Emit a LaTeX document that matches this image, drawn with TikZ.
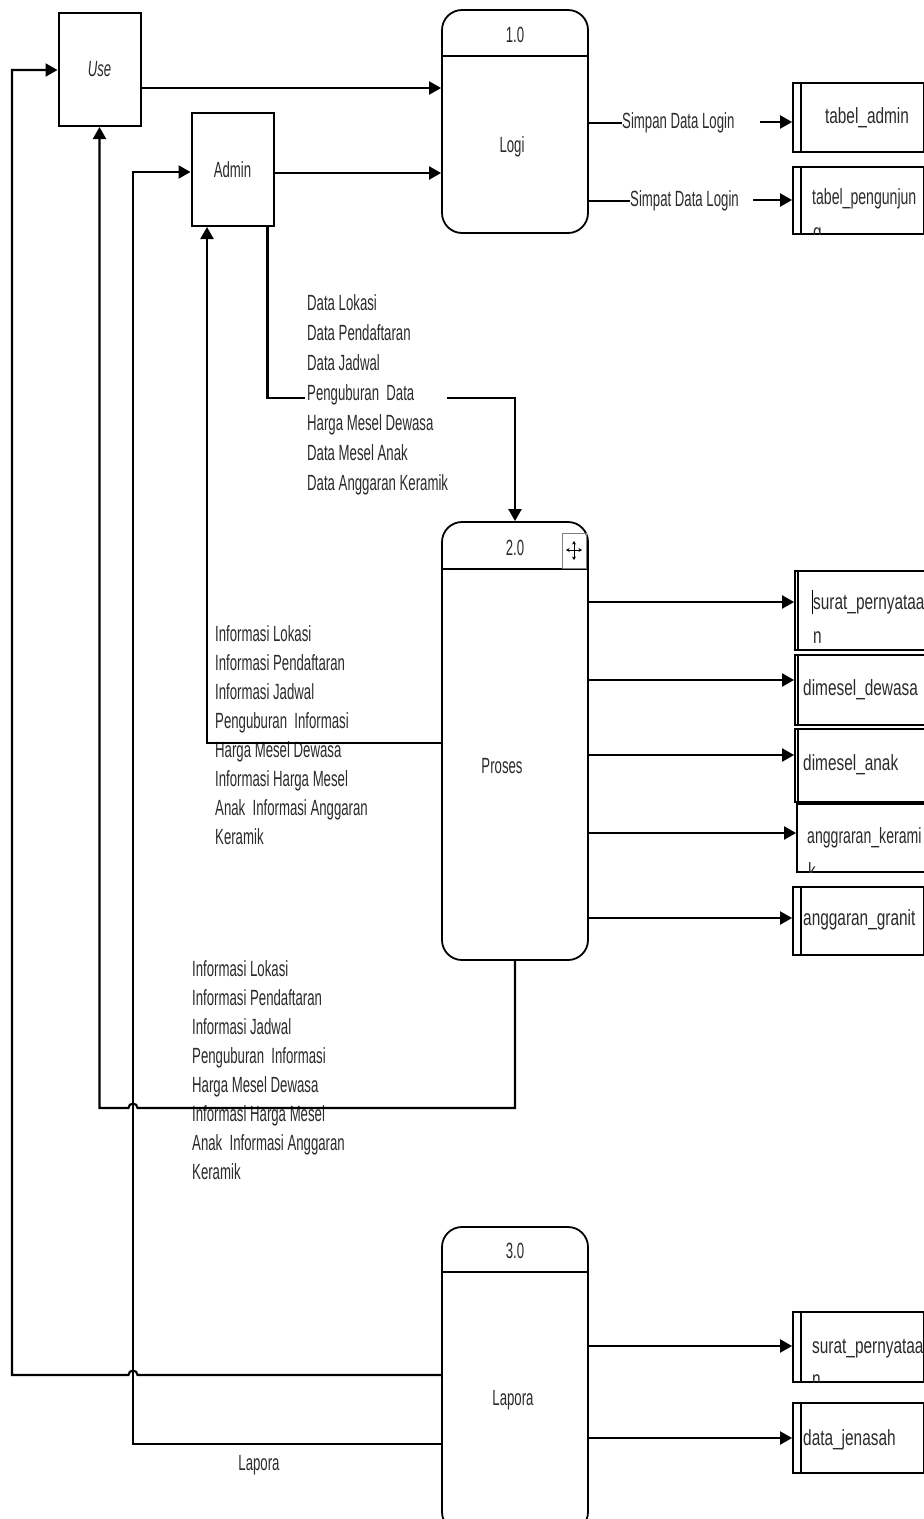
\documentclass[tikz,border=0pt]{standalone}
\usepackage{fontspec}
\usetikzlibrary{arrows.meta}
\newfontfamily\nar[FakeStretch=0.6]{Liberation Sans}
\newfontfamily\stf[FakeStretch=0.7]{Liberation Sans}
\newfontfamily\stn[FakeStretch=0.64]{Liberation Sans}
\definecolor{txt}{HTML}{2A2A2A}
\begin{document}
\begin{tikzpicture}[x=1pt,y=-1pt,
  ln/.style={line width=2.1pt},
  arr/.style={line width=2.1pt,-{Triangle[length=12pt,width=13pt]}},
  ent/.style={draw,line width=2pt,minimum width=82pt,minimum height=113pt,inner sep=0pt},
  proc/.style={draw,line width=1.8pt,rounded corners=20pt,minimum width=146pt,inner sep=0pt},
  store/.style={draw,line width=1.8pt,minimum width=131pt,inner sep=0pt},
  lbl/.style={font=\nar\fontsize{22}{29}\selectfont,text=txt,inner sep=0pt},
  slbl/.style={font=\stf\fontsize{22}{29}\selectfont,text=txt,inner sep=0pt},
]
\useasboundingbox (0,0) rectangle (924,1519);

% external entities
\node[ent,lbl,font=\nar\itshape\fontsize{22}{29}\selectfont] (use) at (99.5,69.5) {Use};
\node[ent,lbl] (admin) at (232.5,169.5) {Admin};

% processes
\node[proc,minimum height=223pt] (p1) at (515,121.5) {};
\draw[ln] (p1.west |- 0,56) -- (p1.east |- 0,56);
\node[lbl] (p1n) at (515,35) {1.0};
\node[lbl] (p1t) at (512,147) {Logi};

\node[proc,minimum height=438pt] (p2) at (515,741) {};
\draw[ln] (p2.west |- 0,569) -- (p2.east |- 0,569);
\node[lbl] (p2n) at (515,548) {2.0};
\node[lbl] (p2t) at (502,766) {Proses};
\node[draw=gray,line width=0.7pt,minimum width=24pt,minimum height=35pt,inner sep=0pt] (mv) at (574,551) {};
\draw[line width=1pt,{Stealth[length=3.5pt,width=4pt]}-{Stealth[length=3.5pt,width=4pt]}] ([xshift=-8pt,yshift=1pt]mv.center) -- ([xshift=8pt,yshift=1pt]mv.center);
\draw[line width=1pt,{Stealth[length=3.5pt,width=4pt]}-{Stealth[length=3.5pt,width=4pt]}] ([yshift=-9pt]mv.center) -- ([yshift=10pt]mv.center);

\node[proc,minimum height=305pt] (p3) at (515,1379.5) {};
\draw[ln] (p3.west |- 0,1272) -- (p3.east |- 0,1272);
\node[lbl] (p3n) at (515,1251) {3.0};
\node[lbl] (p3t) at (513,1400) {Lapora};

% data stores
\node[store,minimum height=69pt] (sa) at (858.5,117.5) {};
\draw[ln] ([xshift=9pt]sa.north west) -- ([xshift=9pt]sa.south west);
\node[slbl] (sat) at (867,118) {tabel\_admin};

\node[store,minimum height=67pt] (sp) at (858.5,200.5) {};
\draw[ln] ([xshift=9pt]sp.north west) -- ([xshift=9pt]sp.south west);
\node[slbl,font=\stn\fontsize{22}{29}\selectfont,anchor=west] (spt) at (812,199) {tabel\_pengunjun};
\begin{scope}
\clip (sp.north west) rectangle (sp.south east);
\node[slbl,anchor=base west] (spt2) at (813,239) {g};
\end{scope}

\node[store,minimum height=79pt] (s1) at (860.5,610.5) {};
\draw[line width=1.3pt] ([xshift=4pt]s1.north west) -- ([xshift=4pt]s1.south west);
\node[slbl,anchor=base west] (s1t) at (813,609) {surat\_pernyataa};
\node[slbl,anchor=base west] (s1t2) at (813,643) {n};
\draw[line width=0.9pt] (812,590) -- (812,614);

\node[store,minimum height=70pt] (s2) at (860.5,690) {};
\draw[line width=1.3pt] ([xshift=4pt]s2.north west) -- ([xshift=4pt]s2.south west);
\node[slbl,anchor=west] (s2t) at (803,690) {dimesel\_dewasa};

\node[store,minimum height=73pt] (s3) at (860.5,765.5) {};
\draw[line width=1.3pt] ([xshift=4pt]s3.north west) -- ([xshift=4pt]s3.south west);
\node[slbl,anchor=west] (s3t) at (803,765) {dimesel\_anak};

\node[store,minimum height=68pt] (s4) at (862.5,838) {};
\node[slbl,font=\stn\fontsize{22}{29}\selectfont,anchor=base west] (s4t) at (807,843) {anggraran\_kerami};
\begin{scope}
\clip (s4.north west) rectangle (s4.south east);
\node[slbl,anchor=base west] (s4t2) at (808,878) {k};
\end{scope}

\node[store,minimum height=68pt] (s5) at (858.5,921) {};
\draw[ln] ([xshift=9pt]s5.north west) -- ([xshift=9pt]s5.south west);
\node[slbl,anchor=west] (s5t) at (803,920) {anggaran\_granit};

\node[store,minimum height=70pt] (s6) at (858.5,1347) {};
\draw[ln] ([xshift=9pt]s6.north west) -- ([xshift=9pt]s6.south west);
\node[slbl,anchor=base west] (s6t) at (812,1353) {surat\_pernyataa};
\begin{scope}
\clip (s6.north west) rectangle (s6.south east);
\node[slbl,anchor=base west] (s6t2) at (812,1386) {n};
\end{scope}

\node[store,minimum height=70pt] (s7) at (858.5,1438) {};
\draw[ln] ([xshift=9pt]s7.north west) -- ([xshift=9pt]s7.south west);
\node[slbl,anchor=west] (s7t) at (803,1440) {data\_jenasah};

% flows at the top
\draw[arr] (use.east |- 0,88) -- (p1.west |- 0,88);
\draw[arr] (admin.east |- 0,173) -- (p1.west |- 0,173);

\node[lbl,anchor=west] (simpan) at (622,123) {Simpan Data Login};
\node[lbl,anchor=west] (simpat) at (630,201) {Simpat Data Login};
\coordinate (k1) at (760,122);
\coordinate (k2) at (753,200);
\draw[ln] (p1.east |- simpan) -- (simpan.west);
\draw[arr] (k1) -- (sa.west |- k1);
\draw[ln] (p1.east |- simpat) -- (simpat.west);
\draw[arr] (k2) -- (sp.west |- k2);

% admin -> proses
\node[lbl,anchor=north west,align=left,font=\nar\fontsize{22}{30}\selectfont] (dlbl) at (307,294)
  {Data Lokasi\\Data Pendaftaran\\Data Jadwal\\Penguburan\ \ Data\\Harga Mesel Dewasa\\Data Mesel Anak\\Data Anggaran Keramik};
\coordinate (d1) at (305,398);
\coordinate (d2) at (447,398);
\draw[ln] ([xshift=-7pt]admin.south east) |- (d1);
\draw[arr] (d2) -| (p2.north);

% proses -> admin
\node[lbl,anchor=north west,align=left] (ilbl1) at (215,625)
  {Informasi Lokasi\\Informasi Pendaftaran\\Informasi Jadwal\\Penguburan\ \ Informasi\\Harga Mesel Dewasa\\Informasi Harga Mesel\\Anak\ \ Informasi Anggaran\\Keramik};
\coordinate (c1) at (207,743);
\draw[arr] (p2.west |- c1) -- (c1) -- (admin.south -| c1);

% proses -> use
\node[lbl,anchor=north west,align=left] (ilbl2) at (192,960)
  {Informasi Lokasi\\Informasi Pendaftaran\\Informasi Jadwal\\Penguburan\ \ Informasi\\Harga Mesel Dewasa\\Informasi Harga Mesel\\Anak\ \ Informasi Anggaran\\Keramik};
\coordinate (j1) at (137.5,1108);
\draw[arr] (p2.south) |- (j1) arc[start angle=0,end angle=180,radius=4.5pt] -- (use.south |- j1) -- (use.south);

% proses -> stores
\draw[arr] (p2.east |- 0,602) -- (s1.west |- 0,602);
\draw[arr] (p2.east |- 0,680) -- (s2.west |- 0,680);
\draw[arr] (p2.east |- 0,755) -- (s3.west |- 0,755);
\draw[arr] (p2.east |- 0,833) -- (s4.west |- 0,833);
\draw[arr] (p2.east |- 0,918) -- (s5.west |- 0,918);

% lapora flows
\coordinate (j2) at (137.5,1375);
\coordinate (c2) at (12,70);
\draw[arr] (p3.west |- j2) -- (j2) arc[start angle=0,end angle=180,radius=4.5pt] -- (c2 |- j2) -- (c2) -- (use.west |- c2);
\coordinate (c3) at (133,172);
\coordinate (c4) at (133,1444);
\draw[arr] (p3.west |- c4) -- (c4) -- (c3) -- (admin.west |- c3);
\node[lbl] (lap) at (259,1465) {Lapora};

\draw[arr] (p3.east |- 0,1346) -- (s6.west |- 0,1346);
\draw[arr] (p3.east |- 0,1438) -- (s7.west |- 0,1438);
\end{tikzpicture}
\end{document}
